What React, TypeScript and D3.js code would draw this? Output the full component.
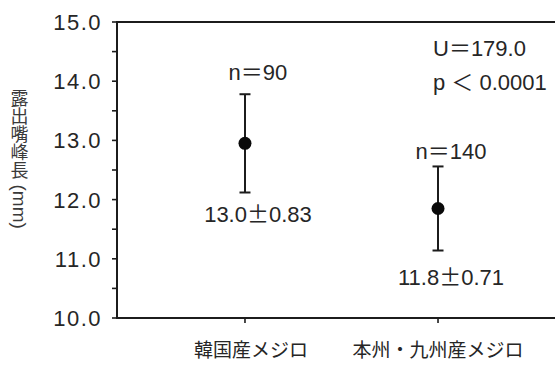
import React from "react";
import * as d3 from "d3";

const categories = ["韓国産メジロ", "本州・九州産メジロ"];
const means = [12.95, 11.85];
const sds = [0.83, 0.71];
const sampleSizes = [90, 140];
const meanLabels = ["13.0", "11.8"];
const sdLabels = ["0.83", "0.71"];
const yDomain = [10, 15];
const statLines = ["U＝179.0", "p ＜ 0.0001"];
const yLabel = "露出嘴峰長";
const yUnit = "(mm)";

export default function App() {
  const width = 555;
  const height = 365;
  // plot area runs off the right edge of the picture
  const left = 117, top = 22, bottom = 318, right = 566;

  const y = d3.scaleLinear().domain(yDomain).range([bottom, top]);
  const x = d3.scalePoint<string>().domain(categories).range([left, right]).padding(0.663);
  const ticks = y.ticks(10);
  const fmt = d3.format(".1f");

  const numFont = "'Liberation Sans', Arial, 'Noto Sans CJK JP', sans-serif";
  const jpFont = "'Noto Sans CJK JP', sans-serif";
  const ink = "#1c1c1c";
  const topGap = [14, 7];
  const bottomGap = [30, 34];
  const capW = 5.5;

  return (
    <svg
      width={width}
      height={height}
      style={{ position: "absolute", left: 0, top: 0, background: "#fff" }}
    >
      {/* ticks */}
      <g stroke={ink} strokeWidth={1.6}>
        {ticks.map((t) => (
          <line key={t} x1={left - 5} x2={left} y1={y(t)} y2={y(t)} />
        ))}
        {categories.map((c) => (
          <line key={c} x1={x(c)} x2={x(c)} y1={bottom} y2={bottom + 5} />
        ))}
      </g>
      <g fontFamily={numFont} fontSize={22} fill="#262626" textAnchor="end" letterSpacing={1.5}>
        {ticks
          .filter((t) => Number.isInteger(t))
          .map((t) => (
            <text key={t} x={102} y={y(t)} dy="0.36em">
              {fmt(t)}
            </text>
          ))}
      </g>
      {/* frame */}
      <path
        d={`M${right},${top}H${left}V${bottom}H${right}`}
        fill="none"
        stroke={ink}
        strokeWidth={2}
      />

      {/* error bars and means */}
      {categories.map((c, i) => {
        const cx = x(c)!;
        const hi = y(means[i] + sds[i]);
        const lo = y(means[i] - sds[i]);
        return (
          <g key={c}>
            <g stroke={ink} strokeWidth={2}>
              <line x1={cx} x2={cx} y1={hi} y2={lo} />
              <line x1={cx - capW} x2={cx + capW} y1={hi} y2={hi} />
              <line x1={cx - capW} x2={cx + capW} y1={lo} y2={lo} />
            </g>
            <circle cx={cx} cy={y(means[i])} r={6.5} fill="#0a0a0a" />
            <g fontFamily={numFont} fontSize={22} fill="#262626" textAnchor="middle">
              <text x={cx + 13} y={hi - topGap[i]}>
                n＝{sampleSizes[i]}
              </text>
              <text x={cx + 13} y={lo + bottomGap[i]}>
                {meanLabels[i]}
                <tspan style={{ fontFamily: jpFont, fontFeatureSettings: "'fwid'" }}>±</tspan>
                {sdLabels[i]}
              </text>
            </g>
          </g>
        );
      })}

      {/* test statistic */}
      <g fontFamily={numFont} fontSize={22} fill="#262626">
        {statLines.map((s, i) => (
          <text key={s} x={433} y={56 + i * 34}>
            {s}
          </text>
        ))}
      </g>

      {/* x labels */}
      <g fontFamily={jpFont} fontSize={19} fill="#262626" textAnchor="middle">
        {categories.map((c, i) => (
          <text key={c} x={x(c)! + (i === 0 ? 6 : 0)} y={357}>
            {c}
          </text>
        ))}
      </g>

      {/* y label, written vertically */}
      <text
        x={19.5}
        y={159}
        textAnchor="middle"
        fontFamily={jpFont}
        fontSize={18}
        fill="#3a3a3a"
        style={{ writingMode: "vertical-rl" }}
      >
        {yLabel}
        <tspan fontFamily={numFont} fontSize={19}>
          {" " + yUnit}
        </tspan>
      </text>
    </svg>
  );
}
